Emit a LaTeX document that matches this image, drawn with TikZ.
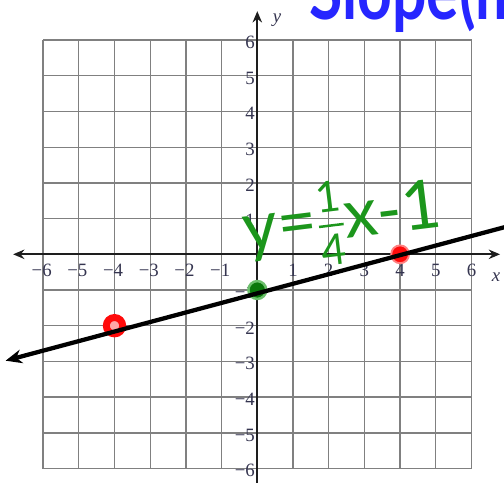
\documentclass[tikz,border=0pt]{standalone}
\usepackage{amsmath}
\usepackage{fontspec}
\setmainfont{Liberation Serif}
\newfontfamily\handfont{Lato}
\usetikzlibrary{arrows.meta}
\definecolor{gridgray}{HTML}{808080}
\definecolor{axisc}{HTML}{1E1E1E}
\definecolor{tickc}{HTML}{353550}
\definecolor{markgreen}{HTML}{1C961C}
\definecolor{darkgreen}{HTML}{0A780A}
\definecolor{halogreen}{HTML}{6CBF6C}
\definecolor{markblue}{HTML}{2626FF}
\definecolor{markred}{HTML}{FF0A0A}
\definecolor{halored}{HTML}{FF8080}
\newcommand{\fracpart}[1]{\mbox{\handfont\fontsize{34}{34}\selectfont #1}}
\begin{document}
\begin{tikzpicture}[x=1cm,y=1cm,
  gridline/.style={gridgray, line width=1.1pt},
  axisline/.style={axisc, line width=1.5pt},
  ticklbl/.style={font=\fontsize{15}{17}\selectfont, text=tickc, inner sep=0pt},
  axislbl/.style={font=\fontsize{15}{17}\selectfont\itshape, text=tickc, inner sep=0pt},
  reddot/.style={circle, fill=markred, draw=halored, line width=1.5pt, minimum size=0.5cm, inner sep=0pt},
  redring/.style={circle, fill=halored!70, draw=markred, line width=5.5pt, minimum size=0.46cm, inner sep=0pt},
  greendot/.style={circle, fill=darkgreen, draw=halogreen, line width=2pt, minimum size=0.5cm, inner sep=0pt},
  graphline/.style={black, line width=3.4pt},
  greenhand/.style={font=\handfont\fontsize{54}{54}\selectfont, text=markgreen, inner sep=0pt},
  bluehand/.style={font=\handfont\bfseries\fontsize{62}{62}\selectfont, text=markblue, inner sep=0pt}
]
\useasboundingbox (-7.207,-6.378) rectangle (6.910,7.123);
\clip (-7.207,-6.378) rectangle (6.910,7.123);
% grid
\draw[gridline] (-6,-6) grid (6,6);
% axes
\coordinate (xl) at (-6.84,0);
\coordinate (xr) at (6.80,0);
\coordinate (yb) at (0,-6.7);
\coordinate (yt) at (0,6.81);
\draw[axisline, {Stealth[length=9pt,width=7.5pt]}-{Stealth[length=9pt,width=7.5pt]}] (xl) -- (xr);
\draw[axisline, -{Stealth[length=9pt,width=7.5pt]}] (yb) -- (yt);
% tick labels
\foreach \i in {1,...,6} {
  \node[ticklbl] (xp\i) at (\i,-0.45) {\i};
  \node[ticklbl] (xn\i) at (-\i-0.04,-0.45) {−\i};
  \node[ticklbl, anchor=east] (yp\i) at (-0.06,\i-0.06) {\i};
  \node[ticklbl, anchor=east] (yn\i) at (-0.06,-\i-0.06) {−\i};
}
\node[axislbl] (xlab) at (6.69,-0.63) {x};
\node[axislbl] (ylab) at (0.55,6.56) {y};
% handwriting
\node[bluehand, anchor=base west, xscale=0.78] (slope) at (1.45,6.563) {Slope(m};
\node[greenhand, anchor=base west, rotate=7] (eqn) at (-0.33,0.08)
  {y=\raisebox{6pt}{$\genfrac{}{}{2pt}{0}{\fracpart{1}}{\fracpart{4}}$}x-1};
% points
\node[redring] (pa) at (-4,-2) {};
\node[reddot] (pb) at (4,0) {};
\node[greendot] (pc) at (0,-1) {};
% graph line
\coordinate (la) at (-7.05,-2.98);
\coordinate (lb) at (7.30,0.86);
\draw[graphline, {Stealth[length=13pt,width=11pt]}-] (la) -- (lb);
\end{tikzpicture}
\end{document}
